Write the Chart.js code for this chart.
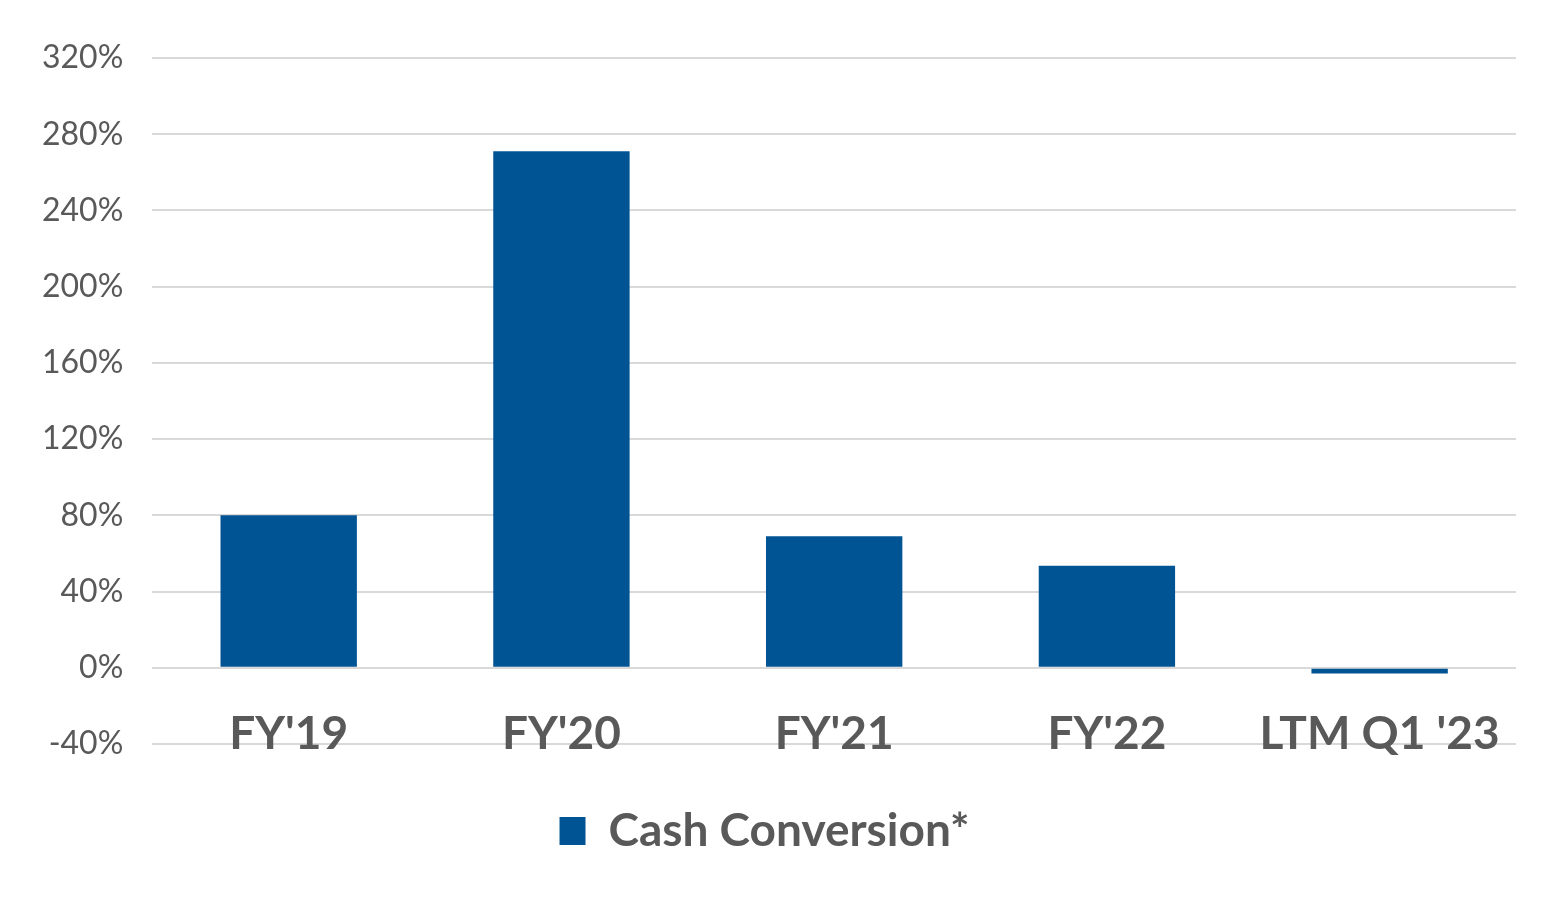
<!DOCTYPE html>
<html>
<head>
<meta charset="utf-8">
<script src="https://cdn.jsdelivr.net/npm/chart.js@4"></script>
<style>
  html, body { margin: 0; padding: 0; background: #fff; }
  #wrap { width: 1563px; height: 900px; position: relative; }
</style>
</head>
<body>
<div id="wrap"><canvas id="chartCash"></canvas></div>
<script>
const categories = ["FY'19", "FY'20", "FY'21", "FY'22", "LTM Q1 '23"];
const cashConversion = [80, 271, 69, 53.5, -3];
const seriesName = 'Cash Conversion*';
const yMin = -40;
const yMax = 320;
const yStep = 40;

const textGrey = '#595959';
const barBlue = '#005494';

const chartCash = document.getElementById('chartCash').getContext('2d');
const myChart = new Chart(chartCash, {
  type: 'bar',
  data: {
    labels: categories,
    datasets: [
      {
        label: seriesName,
        data: cashConversion,
        backgroundColor: barBlue,
        borderWidth: 0,
        categoryPercentage: 1,
        barPercentage: 0.5,
      },
    ],
  },
  options: {
    responsive: true,
    maintainAspectRatio: false,
    animation: false,
    layout: {
      padding: { top: 58, left: 13, right: 47, bottom: 36 },
    },
    plugins: {
      tooltip: { enabled: false },
      legend: {
        position: 'bottom',
        labels: {
          color: textGrey,
          font: { family: 'Lato', size: 46, weight: 'bold' },
          boxWidth: 26,
          boxHeight: 28,
          padding: 20,
        },
      },
    },
    scales: {
      x: {
        grid: { display: false, drawTicks: false },
        border: { display: false },
        // mirrored so the labels sit over the bottom gridline like the original
        ticks: {
          mirror: true,
          color: textGrey,
          font: { family: 'Lato', size: 46, weight: 'bold' },
          padding: -18,
          maxRotation: 0,
        },
        afterFit: (scale) => {
          scale.height = 44;
        },
      },
      y: {
        min: yMin,
        max: yMax,
        border: { display: false },
        grid: { color: '#d9d9d9', lineWidth: 2, drawTicks: false },
        ticks: {
          stepSize: yStep,
          color: textGrey,
          font: { family: 'Lato', size: 32 },
          padding: 29,
          callback: (v) => v + '%',
        },
      },
    },
  },
});
</script>
</body>
</html>
